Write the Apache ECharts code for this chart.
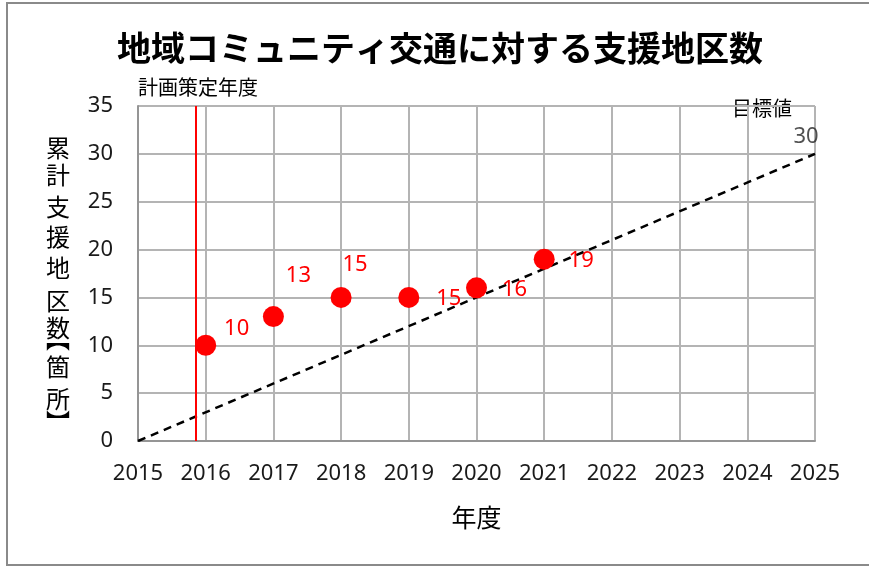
<!DOCTYPE html>
<html><head><meta charset="utf-8">
<script src="https://cdn.jsdelivr.net/npm/echarts@6/dist/echarts.min.js"></script>
<style>html,body{margin:0;padding:0;background:#fff}#c{width:869px;height:567px}</style>
</head><body><div id="c"></div>
<script>
const years = [2016, 2017, 2018, 2019, 2020, 2021];
const actual = [10, 13, 15, 15, 16, 19];
const targetYears = [2015, 2025];
const targetValues = [0, 30];
const planYear = 2015.85;
const xTicks = [2015, 2016, 2017, 2018, 2019, 2020, 2021, 2022, 2023, 2024, 2025];
const yTicks = [0, 5, 10, 15, 20, 25, 30, 35];
const title = '地域コミュニティ交通に対する支援地区数';
const yName = ['累','計','支','援','地','区','数','︻','箇','所','︼'];
const xName = '年度';
const planLabel = '計画策定年度';
const targetLabel = '目標値';

const FONT = '"Noto Sans CJK JP","Noto Sans",sans-serif';
const NUMFONT = '"Noto Sans","Noto Sans CJK JP",sans-serif';
const labelOffsets = [[31,-17],[25,-41],[14,-33],[40,1],[38,2],[37,2]];
const yNameY = [148,175,207,237,268,301,328,339,367,399,422];

const chart = echarts.init(document.getElementById('c'), null, {renderer:'canvas'});
const graphics = [
  {type:'rect',shape:{x:7,y:3,width:880,height:562},style:{fill:'none',stroke:'#8a8a8a',lineWidth:2},silent:true},
  {type:'text',x:440,y:48,style:{text:title,font:'bold 34px '+FONT,fill:'#000',textAlign:'center',textVerticalAlign:'middle'}},
  {type:'text',x:138,y:87,style:{text:planLabel,font:'20px '+FONT,fill:'#000',textAlign:'left',textVerticalAlign:'middle'}},
  {type:'text',x:762,y:108,style:{text:targetLabel,font:'20px '+FONT,fill:'#000',textAlign:'center',textVerticalAlign:'middle'}}
];
yName.forEach((ch,i)=>{
  graphics.push({type:'text',x:58,y:yNameY[i],
    style:{text:ch,font:'24px '+FONT,fill:'#000',textAlign:'center',textVerticalAlign:'middle'}});
});

chart.setOption({
  animation:false,
  backgroundColor:'#fff',
  grid:{left:138,right:54,top:106,bottom:126},
  xAxis:{type:'value',min:xTicks[0],max:xTicks[xTicks.length-1],interval:1,
    name:xName,nameLocation:'middle',nameGap:64,nameTextStyle:{fontFamily:FONT,fontSize:25,color:'#000'},
    axisLine:{lineStyle:{color:'#959595',width:2}},axisTick:{show:false},
    axisLabel:{margin:22,fontFamily:NUMFONT,fontSize:22,color:'#1a1a1a',formatter:v=>String(v)},
    splitLine:{lineStyle:{color:'#b4b4b4',width:2}}},
  yAxis:{type:'value',min:yTicks[0],max:yTicks[yTicks.length-1],interval:5,
    axisLine:{show:true,lineStyle:{color:'#959595',width:2}},axisTick:{show:false},
    axisLabel:{margin:25,fontFamily:NUMFONT,fontSize:22,color:'#1a1a1a'},
    splitLine:{lineStyle:{color:'#b4b4b4',width:2}}},
  graphic:graphics,
  series:[
    {type:'line',data:targetYears.map((y,i)=>[y,targetValues[i]]),symbol:'none',
      lineStyle:{color:'#000',width:2.5,type:[8,6]},z:3,
      markLine:{silent:true,symbol:'none',label:{show:false},lineStyle:{color:'#ff0000',width:2,type:'solid'},data:[{xAxis:planYear}]}},
    {type:'scatter',data:targetYears.map((y,i)=>({value:[y,targetValues[i]],label:{show:i===targetYears.length-1}})),symbolSize:0,
      label:{position:'inside',offset:[-9,-17],fontFamily:NUMFONT,fontSize:22,color:'#262626',formatter:p=>p.value[1]},z:4},
    {type:'scatter',data:years.map((y,i)=>({value:[y,actual[i]],label:{offset:labelOffsets[i]}})),
      symbol:'circle',symbolSize:21,itemStyle:{color:'#ff0000',opacity:1},z:5,
      label:{show:true,position:'inside',fontFamily:NUMFONT,fontSize:22,color:'#ff0000',formatter:p=>p.value[1]}}
  ]
});
</script></body></html>
